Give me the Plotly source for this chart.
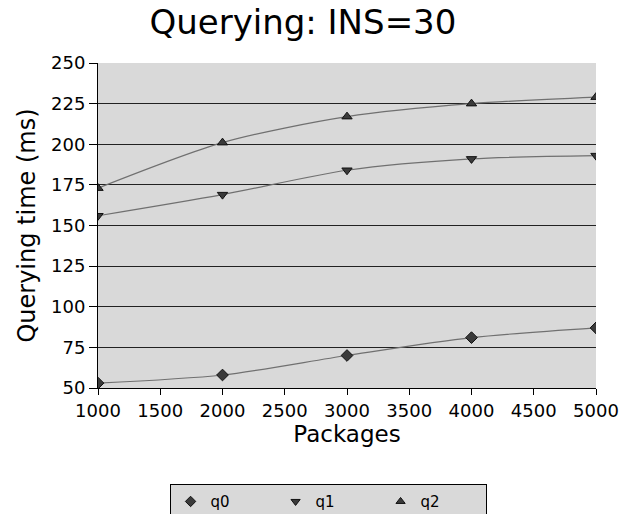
import plotly.graph_objects as go

packages = [1000, 2000, 3000, 4000, 5000]
q0 = [53, 58, 70, 81, 87]
q1 = [156, 169, 184, 191, 193]
q2 = [173, 201, 217, 225, 229]

series = [("q0", q0, "diamond"), ("q1", q1, "triangle-down"), ("q2", q2, "triangle-up")]

fig = go.Figure()
for name, vals, sym in series:
    fig.add_trace(go.Scatter(
        x=packages, y=vals, name=name, mode="lines+markers", showlegend=False,
        line=dict(color="#707070", width=1.2, shape="spline", smoothing=0.8),
        marker=dict(symbol=sym, size=9, color="#3a3a3a", line=dict(color="#111111", width=1)),
    ))
for name, vals, sym in series:
    fig.add_trace(go.Scatter(
        x=[None], y=[None], name=name, mode="markers", showlegend=True,
        marker=dict(symbol=sym, size=8, color="#3a3a3a", line=dict(color="#111111", width=1)),
    ))

fig.update_layout(
    width=622, height=514,
    margin=dict(l=98, r=26, t=63, b=126, autoexpand=False),
    paper_bgcolor="white", plot_bgcolor="#d9d9d9",
    font=dict(family="DejaVu Sans", color="black"),
    title=dict(text="Querying: INS=30", x=0.487, xanchor="center", y=0.957, yanchor="middle",
               font=dict(size=34, family="DejaVu Sans")),
    xaxis=dict(range=[1000, 5000], dtick=500, tick0=1000, showgrid=False,
               ticks="outside", ticklen=6, tickcolor="black", showline=True, linecolor="black",
               linewidth=1, tickfont=dict(size=18), zeroline=False,
               title=dict(text="Packages", font=dict(size=23), standoff=0)),
    yaxis=dict(range=[50, 250], dtick=25, tick0=50, showgrid=True, gridcolor="#222222", gridwidth=1,
               ticks="outside", ticklen=8, tickcolor="black", showline=True, linecolor="black",
               linewidth=1, tickfont=dict(size=18), zeroline=False,
               title=dict(text="Querying time (ms)", font=dict(size=24), standoff=8)),
    legend=dict(orientation="h", x=0.462, xanchor="center", yref="container", y=0.058, yanchor="top",
                bgcolor="#d9d9d9", bordercolor="black", borderwidth=1,
                font=dict(size=15), entrywidth=60, itemwidth=30, tracegroupgap=0),
)

fig.write_html("out.html")
